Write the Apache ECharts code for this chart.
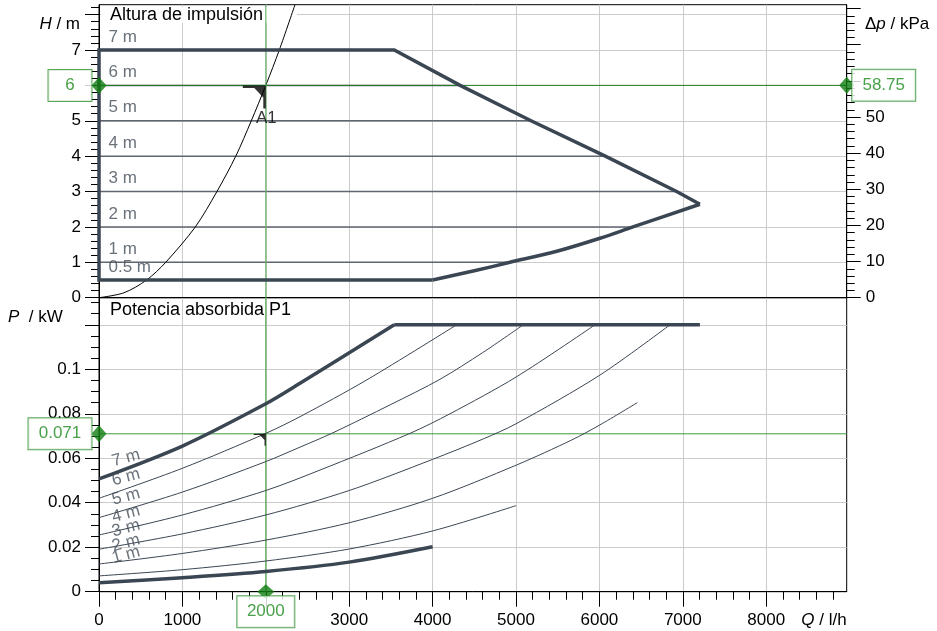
<!DOCTYPE html>
<html>
<head>
<meta charset="utf-8">
<title>Curva de la bomba</title>
<script src="https://cdn.jsdelivr.net/npm/echarts@6/dist/echarts.min.js"></script>
<style>
html, body { margin: 0; padding: 0; background: #fff; }
#chart { width: 937px; height: 631px; }
</style>
</head>
<body>
<div id="chart"></div>
<script>
// punto de trabajo A1
var opQ = 2000, opH = 6, opDp = 58.75, opP = 0.071;

// rangos de los ejes
var qMax = 8965, hMax = 8.28, dpMax = 81.07, pMax = 0.1322;

// marcas y etiquetas de los ejes
var xTicks = [0, 1000, 2000, 3000, 4000, 5000, 6000, 7000, 8000];
var xLabels = [0, 1000, 3000, 4000, 5000, 6000, 7000, 8000];
var hTicks = [0, 1, 2, 3, 4, 5, 6, 7, 8];
var hLabels = [0, 1, 2, 3, 4, 5, 7];
var dpTicks = [0, 10, 20, 30, 40, 50, 60, 70, 80];
var dpLabels = [0, 10, 20, 30, 40, 50];
var pTicks = [0, 0.02, 0.04, 0.06, 0.08, 0.1, 0.12];
var pLabels = [0, 0.02, 0.04, 0.06, 0.08, 0.1];

// altura de impulsion: campo de trabajo
var hEnvelope = [[4000, 0.5], [0, 0.5], [0, 7], [3540, 7], [4330, 6], [5180, 5], [6070, 4], [6926, 3], [7205, 2.64]];
var hLower = [[4000, 0.5], [4500, 0.76], [4928, 1.0], [5500, 1.32], [6006, 1.68], [6402, 2.0], [7205, 2.64]];
// consignas (m) y caudal donde termina cada linea
var setNames = ['7 m', '6 m', '5 m', '4 m', '3 m', '2 m', '1 m', '0.5 m'];
var setH = [7, 6, 5, 4, 3, 2, 1, 0.5];
var setEndQ = [3540, 4330, 5180, 6070, 6926, 6402, 4928, 4000];
// curva de la instalacion
var sysQ = [0, 300, 571, 800, 1155, 1414, 1640, 1826, 2000, 2162, 2350];
var sysH = [0, 0.14, 0.5, 1.0, 2.0, 3.0, 4.0, 5.0, 6.0, 7.0, 8.28];

// potencia absorbida P1 (kW) por consigna
var p7 = [[0, 0.0507], [1000, 0.0655], [2000, 0.0845], [2410, 0.0937], [3540, 0.12]];
var pTop = [[3540, 0.12], [7205, 0.12]];
var p6 = [[0, 0.042], [1000, 0.0555], [2000, 0.0712], [2410, 0.0787], [3209, 0.0952], [4288, 0.12]];
var p5 = [[0, 0.0333], [1000, 0.0448], [2000, 0.0585], [2410, 0.065], [2790, 0.0712], [3500, 0.0842], [4088, 0.0955], [4600, 0.1075], [5087, 0.12]];
var p4 = [[0, 0.0255], [1000, 0.0345], [2000, 0.0455], [2650, 0.0547], [3729, 0.0712], [4208, 0.080], [5000, 0.0965], [5947, 0.12]];
var p3 = [[0, 0.0191], [1000, 0.026], [2000, 0.0345], [3000, 0.0455], [4000, 0.0595], [4607, 0.0687], [5000, 0.0755], [6006, 0.0974], [6846, 0.12]];
var p2 = [[0, 0.01245], [1000, 0.0172], [2000, 0.0232], [3000, 0.031], [4000, 0.042], [5008, 0.057], [5667, 0.0682], [6006, 0.075], [6454, 0.085]];
var p1 = [[0, 0.0071], [1000, 0.0099], [2000, 0.0138], [3000, 0.0192], [4008, 0.0274], [5000, 0.0387]];
var p05 = [[0, 0.004], [1000, 0.0063], [2000, 0.0091], [3000, 0.0133], [4000, 0.0202]];

var FONT = '"Liberation Sans", Arial, sans-serif';
var DARK = '#3b4653';
var LABEL_GREY = '#434d59';
var GREEN = '#0f7d0f';
var A1_PATH = 'path://M0,0 L23,0 L23,23 L20.5,23 L20.5,12 L11.5,2.5 L0,2.5 Z';

function valueAxis(grid, pos, min, max, interval, ticks, labels, minorSplit, showSplit, margin) {
    return {
        type: 'value', gridIndex: grid, position: pos,
        min: min, max: max, interval: interval,
        axisLine: { show: true, onZero: false, lineStyle: { color: '#000', width: 1 } },
        axisTick: { show: true, customValues: ticks, length: 14, lineStyle: { color: '#000' } },
        minorTick: { show: minorSplit > 0, splitNumber: minorSplit || 5, length: 8, lineStyle: { color: '#000' } },
        axisLabel: {
            show: labels !== null, customValues: labels || [],
            formatter: function (v) { return String(v); },
            color: '#000', fontSize: 17, fontFamily: FONT, margin: margin
        },
        splitLine: { show: showSplit, lineStyle: { color: '#cbcbcb', width: 1 } }
    };
}

function line(xi, yi, data, color, width, smooth, z) {
    return {
        type: 'line', xAxisIndex: xi, yAxisIndex: yi, data: data,
        showSymbol: false, symbol: 'none', smooth: smooth ? 0.3 : false,
        lineStyle: { color: color, width: width, cap: 'butt', join: 'miter' },
        z: z || 3, silent: true
    };
}

function boxLabel(text, pos, dist, width) {
    return {
        show: true, position: pos, distance: dist,
        formatter: '{t|' + text + '}',
        backgroundColor: '#fff', borderColor: '#2f8f2f', borderWidth: 1,
        padding: [6, 0, 6, 0],
        rich: { t: { width: width, align: 'center', color: '#1a8a1a', fontSize: 17, fontFamily: FONT, lineHeight: 19 } }
    };
}

var series = [];

// lineas de consigna (horizontales) en el diagrama de altura
for (var i = 1; i < setH.length - 1; i++) {
    series.push(line(0, 0, [[0, setH[i]], [setEndQ[i], setH[i]]], '#5f6670', 1.5, false, 3));
}
// curva de la instalacion
series.push(line(0, 0, sysQ.map(function (q, k) { return [q, sysH[k]]; }), '#000', 1, true, 4));
// cruz del punto de trabajo (altura)
series.push(line(0, 0, [[0, opH], [qMax, opH]], '#1f7f1f', 1, false, 4));
series.push(line(0, 0, [[opQ, 0], [opQ, hMax]], '#6cb46c', 1.2, false, 4));
// campo de trabajo
series.push(line(0, 0, hEnvelope, DARK, 3.5, false, 5));
series.push(line(0, 0, hLower, DARK, 3.5, true, 5));
// rotulos de consigna
series.push({
    type: 'scatter', xAxisIndex: 0, yAxisIndex: 0, silent: true, z: 6,
    symbolSize: 1, itemStyle: { color: 'rgba(0,0,0,0)' },
    data: setH.map(function (h, k) { return { value: [0, h], name: setNames[k] }; }),
    label: { show: true, position: 'right', distance: 9, offset: [0, -13], formatter: '{b}', color: LABEL_GREY, fontSize: 17, fontFamily: FONT }
});
// marca A1
series.push({
    type: 'scatter', xAxisIndex: 0, yAxisIndex: 0, silent: true, z: 7,
    symbol: A1_PATH, symbolSize: [23, 23], symbolOffset: [-11.5, 11.5],
    itemStyle: { color: '#000' },
    data: [[opQ, opH]],
    label: { show: true, position: 'bottom', distance: 1, offset: [12, 0], formatter: 'A1', color: '#000', fontSize: 17, fontFamily: FONT }
});
// indicadores verdes en los ejes
series.push({
    type: 'scatter', xAxisIndex: 0, yAxisIndex: 0, silent: true, z: 10, clip: false,
    symbol: 'diamond', symbolSize: [15, 17], itemStyle: { color: GREEN },
    data: [[0, opH]], label: boxLabel(String(opH), 'left', 0, 43)
});
series.push({
    type: 'scatter', xAxisIndex: 0, yAxisIndex: 1, silent: true, z: 10, clip: false,
    symbol: 'diamond', symbolSize: [15, 17], itemStyle: { color: GREEN },
    data: [[qMax, opDp]], label: boxLabel(String(opDp), 'right', -2, 63)
});

// diagrama de potencia
series.push(line(1, 2, [[opQ, 0], [opQ, pMax]], '#55aa55', 1.2, false, 2));
series.push(line(1, 2, [[0, opP], [qMax, opP]], '#3f9b3f', 1, false, 2));
[p6, p5, p4, p3, p2, p1].forEach(function (d) {
    series.push(line(1, 2, d, DARK, 1, true, 3));
});
series.push(line(1, 2, p7, DARK, 3.5, true, 5));
series.push(line(1, 2, pTop, DARK, 3.5, false, 5));
series.push(line(1, 2, p05, DARK, 3.5, true, 5));
series.push({
    type: 'scatter', xAxisIndex: 1, yAxisIndex: 2, silent: true, z: 6,
    symbolSize: 1, symbolOffset: [27, -21], itemStyle: { color: 'rgba(0,0,0,0)' },
    data: [p7, p6, p5, p4, p3, p2, p1].map(function (d, k) { return { value: d[0], name: setNames[k] }; }),
    label: { show: true, position: 'inside', rotate: 15, formatter: '{b}', color: LABEL_GREY, fontSize: 17, fontFamily: FONT }
});
series.push({
    type: 'scatter', xAxisIndex: 1, yAxisIndex: 2, silent: true, z: 7,
    symbol: A1_PATH, symbolSize: [12, 12], symbolOffset: [-6, 6],
    itemStyle: { color: '#000' }, data: [[opQ, opP]]
});
series.push({
    type: 'scatter', xAxisIndex: 1, yAxisIndex: 2, silent: true, z: 10, clip: false,
    symbol: 'diamond', symbolSize: [15, 17], itemStyle: { color: GREEN },
    data: [[0, opP]], label: boxLabel(String(opP), 'left', 0, 63)
});
series.push({
    type: 'scatter', xAxisIndex: 1, yAxisIndex: 2, silent: true, z: 10, clip: false,
    symbol: 'diamond', symbolSize: [17, 15], itemStyle: { color: GREEN },
    data: [[opQ, 0]], label: boxLabel(String(opQ), 'bottom', -3, 57)
});

function axisName(x, y, text, align) {
    return {
        type: 'text', x: x, y: y, silent: true, z: 20,
        style: {
            text: text, align: align, verticalAlign: 'middle',
            fontSize: 17, fontFamily: FONT, fill: '#000',
            rich: { i: { fontStyle: 'italic', fontSize: 17, fontFamily: FONT, fill: '#000' } }
        }
    };
}

var xTop = valueAxis(0, 'bottom', 0, qMax, 1000, xTicks, null, 0, true, 20);
xTop.axisTick.show = false;
var xBottom = valueAxis(1, 'bottom', 0, qMax, 1000, xTicks, xLabels, 5, true, 20);
xBottom.axisTick.length = 15;

var option = {
    animation: false,
    backgroundColor: '#fff',
    grid: [
        { left: 99, top: 4.7, width: 747.7, height: 293, show: true, borderColor: '#000', borderWidth: 1, backgroundColor: 'transparent' },
        { left: 99, top: 297.7, width: 747.7, height: 294, show: true, borderColor: '#000', borderWidth: 1, backgroundColor: 'transparent' }
    ],
    xAxis: [xTop, xBottom],
    yAxis: [
        valueAxis(0, 'left', 0, hMax, 1, hTicks, hLabels, 5, true, 18),
        valueAxis(0, 'right', 0, dpMax, 10, dpTicks, dpLabels, 5, false, 19),
        valueAxis(1, 'left', 0, pMax, 0.02, pTicks, pLabels, 4, true, 18)
    ],
    graphic: [
        { type: 'rect', silent: true, z: 1, shape: { x: 101, y: 7, width: 196, height: 16 }, style: { fill: '#fff' } },
        { type: 'text', x: 110, y: 15, silent: true, z: 20, style: { text: 'Altura de impulsión', verticalAlign: 'middle', fontSize: 18, fontFamily: FONT, fill: '#000' } },
        { type: 'text', x: 110, y: 310, silent: true, z: 20, style: { text: 'Potencia absorbida P1', verticalAlign: 'middle', fontSize: 18, fontFamily: FONT, fill: '#000' } },
        axisName(80, 24, '{i|H} / m', 'right'),
        axisName(865, 24, 'Δ{i|p} / kPa', 'left'),
        axisName(8, 317, '{i|P}  / kW', 'left'),
        axisName(846.7, 620, '{i|Q} / l/h', 'right')
    ],
    series: series
};

echarts.init(document.getElementById('chart')).setOption(option);
</script>
</body>
</html>
